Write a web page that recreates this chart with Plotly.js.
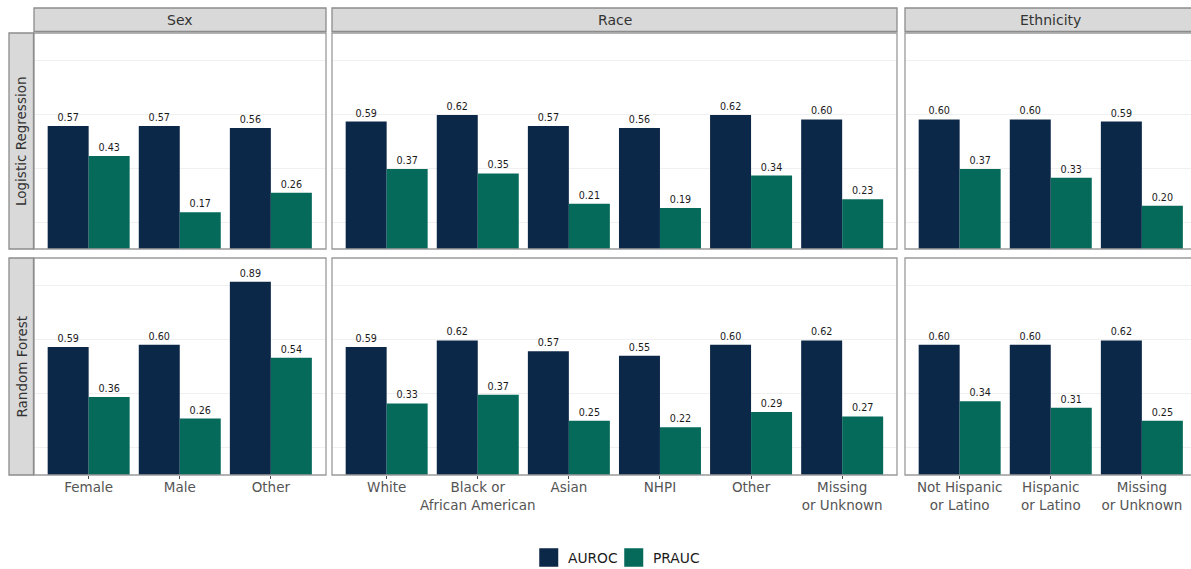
<!DOCTYPE html>
<html>
<head>
<meta charset="utf-8">
<script src="https://cdn.plot.ly/plotly-3.0.1.min.js"></script>
<style>html,body{margin:0;padding:0;background:#fff;}#chart{width:1191px;height:569px;}</style>
</head>
<body>
<div id="chart"></div>
<script>
// ---- data ----
const seriesNames = ['AUROC', 'PRAUC'];
const colLabels = ['Sex', 'Race', 'Ethnicity'];
const rowLabels = ['Logistic Regression', 'Random Forest'];

const sexCats = ['Female', 'Male', 'Other'];
const raceCats = ['White', 'Black or<br>African American', 'Asian', 'NHPI', 'Other', 'Missing<br>or Unknown'];
const ethCats = ['Not Hispanic<br>or Latino', 'Hispanic<br>or Latino', 'Missing<br>or Unknown'];

const lrSexAuroc = [0.57, 0.57, 0.56];
const lrSexPrauc = [0.43, 0.17, 0.26];
const lrRaceAuroc = [0.59, 0.62, 0.57, 0.56, 0.62, 0.60];
const lrRacePrauc = [0.37, 0.35, 0.21, 0.19, 0.34, 0.23];
const lrEthAuroc = [0.60, 0.60, 0.59];
const lrEthPrauc = [0.37, 0.33, 0.20];

const rfSexAuroc = [0.59, 0.60, 0.89];
const rfSexPrauc = [0.36, 0.26, 0.54];
const rfRaceAuroc = [0.59, 0.62, 0.57, 0.55, 0.60, 0.62];
const rfRacePrauc = [0.33, 0.37, 0.25, 0.22, 0.29, 0.27];
const rfEthAuroc = [0.60, 0.60, 0.62];
const rfEthPrauc = [0.34, 0.31, 0.25];

// ---- styling / layout ----
const W = 1191, H = 569;
const px = x => x / W;
const py = y => 1 - y / H;
const colors = ['#0c2848', '#056a5a'];
const FONT = 'DejaVu Sans, sans-serif';

const cats = [sexCats, raceCats, ethCats];
const vals = [
  [[lrSexAuroc, lrSexPrauc], [lrRaceAuroc, lrRacePrauc], [lrEthAuroc, lrEthPrauc]],
  [[rfSexAuroc, rfSexPrauc], [rfRaceAuroc, rfRacePrauc], [rfEthAuroc, rfEthPrauc]]
];
const colPx = [[34, 326], [332, 897], [905, 1196]];
const rowPx = [[33, 249], [258, 475]];
const unitPx = 91.1;

const traces = [];
const layout = {
  width: W, height: H,
  margin: {l: 0, r: 0, t: 0, b: 0},
  paper_bgcolor: '#ffffff', plot_bgcolor: '#ffffff',
  barmode: 'group', bargap: 0.1, bargroupgap: 0,
  showlegend: false,
  font: {family: FONT, color: '#4d4d4d'},
  shapes: [], annotations: []
};

for (let r = 0; r < 2; r++) {
  for (let c = 0; c < 3; c++) {
    const idx = r * 3 + c + 1;
    const xa = 'x' + (idx === 1 ? '' : idx);
    const ya = 'y' + (idx === 1 ? '' : idx);
    const x0 = colPx[c][0], x1 = Math.min(colPx[c][1], W);
    const visUnits = (x1 - x0) / unitPx;
    for (let s = 0; s < 2; s++) {
      traces.push({
        type: 'bar', name: seriesNames[s],
        x: cats[c], y: vals[r][c][s],
        xaxis: xa, yaxis: ya,
        marker: {color: colors[s], line: {width: 0}},
        text: vals[r][c][s].map(v => v.toFixed(2)),
        textposition: 'outside',
        textfont: {family: FONT, size: 9.6, color: '#1a1a1a'},
        cliponaxis: false,
        hoverinfo: 'x+y+name'
      });
    }
    layout['xaxis' + (idx === 1 ? '' : idx)] = {
      type: 'category', categoryorder: 'array', categoryarray: cats[c],
      domain: [px(x0), px(x1)],
      range: [-0.6, -0.6 + visUnits],
      anchor: ya,
      showgrid: false, zeroline: false, showline: false,
      showticklabels: r === 1,
      ticks: r === 1 ? 'outside' : '',
      ticklen: 3, tickwidth: 1, tickcolor: '#4d4d4d',
      ticklabelstandoff: -3,
      tickfont: {family: FONT, size: 13.5, color: '#555555'},
      fixedrange: true
    };
    layout['yaxis' + (idx === 1 ? '' : idx)] = {
      domain: [py(rowPx[r][1]), py(rowPx[r][0])],
      range: [0, 1],
      anchor: xa,
      tickvals: [0.125, 0.375, 0.625, 0.875],
      showticklabels: false, ticks: '',
      showgrid: true, gridcolor: '#f0f0f0', gridwidth: 1,
      zeroline: false, showline: false,
      fixedrange: true
    };
    // panel border
    layout.shapes.push({
      type: 'rect', xref: 'paper', yref: 'paper', layer: 'above',
      x0: px(x0), x1: px(colPx[c][1]), y0: py(rowPx[r][1]), y1: py(rowPx[r][0]),
      line: {color: '#9a9a9a', width: 1.3}, fillcolor: 'rgba(0,0,0,0)'
    });
  }
}

// column strips
for (let c = 0; c < 3; c++) {
  layout.shapes.push({
    type: 'rect', xref: 'paper', yref: 'paper', layer: 'above',
    x0: px(colPx[c][0]), x1: px(colPx[c][1]), y0: py(31.5), y1: py(8),
    line: {color: '#8c8c8c', width: 1.3}, fillcolor: '#d9d9d9'
  });
  layout.annotations.push({
    xref: 'paper', yref: 'paper', x: px((colPx[c][0] + colPx[c][1]) / 2), y: py(19.5),
    text: colLabels[c], showarrow: false, xanchor: 'center', yanchor: 'middle',
    font: {family: FONT, size: 14, color: '#333333'}
  });
}
// row strips
for (let r = 0; r < 2; r++) {
  layout.shapes.push({
    type: 'rect', xref: 'paper', yref: 'paper', layer: 'above',
    x0: px(9), x1: px(33.5), y0: py(rowPx[r][1]), y1: py(rowPx[r][0]),
    line: {color: '#8c8c8c', width: 1.3}, fillcolor: '#d9d9d9'
  });
  layout.annotations.push({
    xref: 'paper', yref: 'paper', x: px(21), y: py((rowPx[r][0] + rowPx[r][1]) / 2),
    text: rowLabels[r], showarrow: false, textangle: -90, xanchor: 'center', yanchor: 'middle',
    font: {family: FONT, size: 13.5, color: '#333333'}
  });
}
// legend
const legKeys = [[539, 566], [624, 651]];
for (let s = 0; s < 2; s++) {
  layout.shapes.push({
    type: 'rect', xref: 'paper', yref: 'paper',
    x0: px(legKeys[s][0]), x1: px(legKeys[s][0] + 19.5), y0: py(567), y1: py(548),
    line: {color: '#ffffff', width: 0.5}, fillcolor: colors[s]
  });
  layout.annotations.push({
    xref: 'paper', yref: 'paper', x: px(legKeys[s][1]), y: py(557.5),
    text: seriesNames[s], showarrow: false, xanchor: 'left', yanchor: 'middle',
    font: {family: FONT, size: 13.8, color: '#1a1a1a'}
  });
}

Plotly.newPlot('chart', traces, layout, {displayModeBar: false, staticPlot: true});
</script>
</body>
</html>
